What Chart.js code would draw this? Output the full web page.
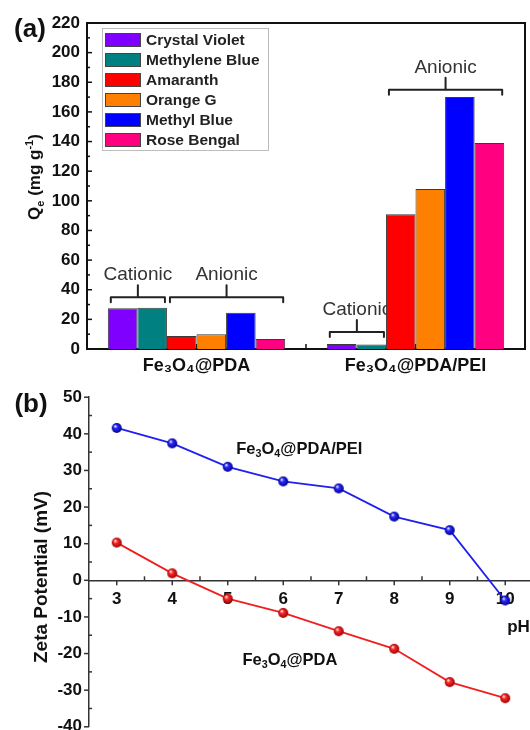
<!DOCTYPE html>
<html>
<head>
<meta charset="utf-8">
<title>Dye adsorption and zeta potential</title>
<script src="https://cdn.jsdelivr.net/npm/chart.js@4.4.1/dist/chart.umd.min.js"></script>
<style>
    html, body { margin: 0; padding: 0; background: #fff; overflow: hidden; }
    .panel { position: absolute; left: 0; }
    #panelA { top: 0; width: 530px; height: 380px; }
    #panelB { top: 380px; width: 537px; height: 364px; }
</style>
</head>
<body>
<div class="panel" id="panelA"><canvas id="chartA"></canvas></div>
<div class="panel" id="panelB"><canvas id="chartB"></canvas></div>
<script>
// (a) adsorption capacity Qe, mg/g
const adsorbents = ['Fe₃O₄@PDA', 'Fe₃O₄@PDA/PEI'];
const dyes = ['Crystal Violet', 'Methylene Blue', 'Amaranth', 'Orange G', 'Methyl Blue', 'Rose Bengal'];
const crystalViolet = [27.5, 3.3];
const methyleneBlue = [27.9, 3.1];
const amaranth = [8.8, 91];
const orangeG = [9.9, 108];
const methylBlue = [24.5, 170];
const roseBengal = [6.7, 139];
const qeTicks = [0, 20, 40, 60, 80, 100, 120, 140, 160, 180, 200, 220];

// dye charge groups: adsorbent index, first/last dye index, bracket height (mg/g)
const dyeGroups = [
    { text: 'Cationic', cat: 0, from: 0, to: 1, level: 35 },
    { text: 'Anionic', cat: 0, from: 2, to: 5, level: 35 },
    { text: 'Cationic', cat: 1, from: 0, to: 1, level: 11.5 },
    { text: 'Anionic', cat: 1, from: 2, to: 5, level: 175 }
];

// (b) zeta potential vs pH, mV
const phValues = [3, 4, 5, 6, 7, 8, 9, 10];
const zetaPdaPei = [41.6, 37.4, 31.0, 27.0, 25.1, 17.4, 13.7, -5.5];
const zetaPda = [10.3, 1.9, -5.0, -8.9, -13.9, -18.7, -27.8, -32.2];
const zetaTicks = [-40, -30, -20, -10, 0, 10, 20, 30, 40, 50];

const family = '"Liberation Sans", Arial, Helvetica, sans-serif';
Chart.defaults.font.family = family;
Chart.defaults.color = '#111';
Chart.defaults.animation = false;

const dyeSeries = [crystalViolet, methyleneBlue, amaranth, orangeG, methylBlue, roseBengal];
const dyeColors = ['#8000ff', '#008080', '#ff0000', '#ff8000', '#0000ff', '#ff0080'];

function tick(ctx, x1, y1, x2, y2) {
    ctx.beginPath();
    ctx.moveTo(x1, y1);
    ctx.lineTo(x2, y2);
    ctx.stroke();
}

function midpoints(arr) {
    const out = [];
    for (let i = 1; i < arr.length; i++) out.push((arr[i - 1] + arr[i]) / 2);
    return out;
}

// text with _{sub} and ^{sup} parts, y is the baseline
function drawRich(ctx, str, x, y, size, align, weight) {
    const parts = [];
    const re = /([_^])\{([^}]*)\}|([^_^]+)/g;
    let m;
    while ((m = re.exec(str))) {
        if (m[3]) parts.push({ t: m[3], s: 0 });
        else parts.push({ t: m[2], s: m[1] === '_' ? 1 : -1 });
    }
    const small = size * 0.65;
    const fontFor = p => (weight || 'bold') + ' ' + (p.s ? small : size) + 'px ' + family;
    let w = 0;
    parts.forEach(p => { ctx.font = fontFor(p); p.w = ctx.measureText(p.t).width; w += p.w; });
    let cx = align === 'left' ? x : x - w / 2;
    ctx.textAlign = 'left';
    ctx.textBaseline = 'alphabetic';
    parts.forEach(p => {
        ctx.font = fontFor(p);
        const dy = p.s === 1 ? size * 0.22 : (p.s === -1 ? -size * 0.42 : 0);
        ctx.fillText(p.t, cx, y + dy);
        cx += p.w;
    });
}

function panelLetter(ctx, text, x, y) {
    ctx.font = 'bold 26px ' + family;
    ctx.fillStyle = '#111';
    ctx.textAlign = 'center';
    ctx.textBaseline = 'middle';
    ctx.fillText(text, x, y);
}

// shaded ball used as point marker
function sphere(base, dark, r) {
    const c = document.createElement('canvas');
    const s = Math.ceil(2 * r + 2);
    c.width = c.height = s;
    const g = c.getContext('2d');
    const m = s / 2;
    const grad = g.createRadialGradient(m - r * 0.35, m - r * 0.4, r * 0.05, m, m, r);
    grad.addColorStop(0, '#ffffff');
    grad.addColorStop(0.35, base);
    grad.addColorStop(1, dark);
    g.fillStyle = grad;
    g.beginPath();
    g.arc(m, m, r, 0, Math.PI * 2);
    g.fill();
    return c;
}

// ---------- Panel (a) ----------
const panelAPlugin = {
    id: 'panelA',
    beforeDatasetsDraw(chart) {
        const { ctx, chartArea: a, scales: { x, y } } = chart;
        ctx.save();
        ctx.strokeStyle = '#111';
        ctx.lineWidth = 1.5;
        const centers = adsorbents.map((_, i) => x.getPixelForTick(i));
        centers.forEach(px => tick(ctx, px, a.bottom, px, a.bottom - 5));
        midpoints(centers).forEach(px => tick(ctx, px, a.bottom, px, a.bottom - 5));

        // charge group brackets, text sits behind the bars
        ctx.lineWidth = 2;
        ctx.lineJoin = 'round';
        ctx.lineCap = 'round';
        dyeGroups.forEach(g => {
            const first = chart.getDatasetMeta(g.from).data[g.cat].getProps(['x', 'width']);
            const last = chart.getDatasetMeta(g.to).data[g.cat].getProps(['x', 'width']);
            const x1 = first.x - first.width / 2 + 3;
            const x2 = last.x + last.width / 2 - 2;
            const xm = (x1 + x2) / 2;
            const py = y.getPixelForValue(g.level);
            ctx.strokeStyle = '#222';
            ctx.beginPath();
            ctx.moveTo(x1, py + 5);
            ctx.lineTo(x1, py);
            ctx.lineTo(x2, py);
            ctx.lineTo(x2, py + 5);
            ctx.moveTo(xm, py);
            ctx.lineTo(xm, py - 12);
            ctx.stroke();
            ctx.font = '19px ' + family;
            ctx.fillStyle = '#333';
            ctx.textAlign = 'center';
            ctx.textBaseline = 'alphabetic';
            ctx.fillText(g.text, xm, py - 17);
        });
        ctx.restore();
    },
    afterDraw(chart) {
        const { ctx, chartArea: a, scales: { y } } = chart;
        ctx.save();
        ctx.strokeStyle = '#111';
        ctx.lineWidth = 2;
        ctx.beginPath();
        ctx.moveTo(a.left, a.top);
        ctx.lineTo(a.right, a.top);
        ctx.lineTo(a.right, a.bottom);
        ctx.stroke();

        ctx.lineWidth = 1.5;
        qeTicks.forEach(v => { const py = y.getPixelForValue(v); tick(ctx, a.left, py, a.left + 5, py); });
        midpoints(qeTicks).forEach(v => { const py = y.getPixelForValue(v); tick(ctx, a.left, py, a.left + 3, py); });

        // legend
        const bx = a.left + 15, by = a.top + 5;
        ctx.lineWidth = 1;
        ctx.strokeStyle = '#bdbdbd';
        ctx.strokeRect(bx + 0.5, by + 0.5, 166, 122);
        chart.data.datasets.forEach((ds, i) => {
            const cy = by + 12 + i * 20;
            ctx.fillStyle = ds.backgroundColor;
            ctx.fillRect(bx + 3, cy - 7, 36, 14);
            ctx.strokeStyle = '#444';
            ctx.strokeRect(bx + 3.5, cy - 6.5, 35, 13);
            ctx.fillStyle = '#222';
            ctx.font = 'bold 15.5px ' + family;
            ctx.textAlign = 'left';
            ctx.textBaseline = 'middle';
            ctx.fillText(ds.label, bx + 44, cy + 1);
        });

        // y title
        ctx.fillStyle = '#111';
        ctx.save();
        ctx.translate(34, (a.top + a.bottom) / 2 - 9);
        ctx.rotate(-Math.PI / 2);
        drawRich(ctx, 'Q_{e} (mg g^{-1})', 0, 6, 17, 'center');
        ctx.restore();

        panelLetter(ctx, '(a)', 30, 30);
        ctx.restore();
    }
};

new Chart(document.getElementById('chartA'), {
    type: 'bar',
    data: {
        labels: adsorbents,
        datasets: dyes.map((d, i) => ({
            label: d,
            data: dyeSeries[i],
            backgroundColor: dyeColors[i],
            borderColor: '#3a3a3a',
            borderWidth: 1,
            categoryPercentage: 0.81,
            barPercentage: 1
        }))
    },
    options: {
        responsive: true,
        maintainAspectRatio: false,
        layout: { padding: { top: 23, right: 5, bottom: 0, left: 0 } },
        plugins: { legend: { display: false }, tooltip: { enabled: false } },
        scales: {
            x: {
                grid: { display: false, drawTicks: false },
                border: { color: '#111', width: 2 },
                ticks: { font: { size: 18, weight: 'bold' }, padding: 6 },
                afterFit: s => { s.height = 31; }
            },
            y: {
                min: 0,
                max: 220,
                grid: { display: false, drawTicks: false },
                border: { color: '#111', width: 2 },
                ticks: { font: { size: 17, weight: 'bold' }, padding: 7 },
                afterBuildTicks: s => { s.ticks = qeTicks.map(v => ({ value: v })); },
                afterFit: s => { s.width = 87; }
            }
        }
    },
    plugins: [panelAPlugin]
});

// ---------- Panel (b) ----------
const curveLabels = [
    { text: 'Fe_{3}O_{4}@PDA/PEI', x: 6.29, y: 36.2 },
    { text: 'Fe_{3}O_{4}@PDA', x: 6.12, y: -21.4 }
];

const panelBPlugin = {
    id: 'panelB',
    beforeDatasetsDraw(chart) {
        const { ctx, chartArea: a, scales: { x, y } } = chart;
        const y0 = y.getPixelForValue(0);
        ctx.save();
        ctx.strokeStyle = '#333';
        ctx.lineWidth = 1.5;
        zetaTicks.forEach(v => { const py = y.getPixelForValue(v); tick(ctx, a.left - 5, py, a.left, py); });
        midpoints(zetaTicks).forEach(v => { const py = y.getPixelForValue(v); tick(ctx, a.left, py, a.left + 3, py); });
        phValues.forEach(v => { const px = x.getPixelForValue(v); tick(ctx, px, y0, px, y0 + 5); });
        midpoints(phValues).forEach(v => { const px = x.getPixelForValue(v); tick(ctx, px, y0, px, y0 - 4); });
        ctx.restore();
    },
    afterDraw(chart) {
        const { ctx, chartArea: a, scales: { x, y } } = chart;
        ctx.save();
        ctx.fillStyle = '#111';
        curveLabels.forEach(l => {
            drawRich(ctx, l.text, x.getPixelForValue(l.x), y.getPixelForValue(l.y) + 6, 16.5, 'center');
        });

        ctx.font = 'bold 17px ' + family;
        ctx.textAlign = 'left';
        ctx.textBaseline = 'middle';
        ctx.fillText('pH', x.getPixelForValue(10) + 2, y.getPixelForValue(0) + 47);

        ctx.save();
        ctx.translate(40, (a.top + a.bottom) / 2 + 15);
        ctx.rotate(-Math.PI / 2);
        drawRich(ctx, 'Zeta Potential (mV)', 0, 7, 19, 'center');
        ctx.restore();

        panelLetter(ctx, '(b)', 31, 25);
        ctx.restore();
    }
};

new Chart(document.getElementById('chartB'), {
    type: 'line',
    data: {
        datasets: [
            {
                label: 'Fe₃O₄@PDA/PEI',
                data: phValues.map((p, i) => ({ x: p, y: zetaPdaPei[i] })),
                borderColor: '#2020f0',
                borderWidth: 1.8,
                pointStyle: sphere('#2a2aff', '#00008c', 5),
                pointRadius: 5,
                tension: 0
            },
            {
                label: 'Fe₃O₄@PDA',
                data: phValues.map((p, i) => ({ x: p, y: zetaPda[i] })),
                borderColor: '#f02020',
                borderWidth: 1.8,
                pointStyle: sphere('#ff2a2a', '#9a0000', 5),
                pointRadius: 5,
                tension: 0
            }
        ]
    },
    options: {
        responsive: true,
        maintainAspectRatio: false,
        layout: { padding: { top: 17, right: 0, bottom: 0, left: 0 } },
        plugins: { legend: { display: false }, tooltip: { enabled: false } },
        scales: {
            x: {
                type: 'linear',
                min: 2.5,
                max: 10.45,
                position: { y: 0 },
                grid: { display: false, drawTicks: false },
                border: { color: '#333', width: 1.5 },
                ticks: { font: { size: 17, weight: 'bold' }, padding: 9 },
                afterBuildTicks: s => { s.ticks = phValues.map(v => ({ value: v })); },
                afterFit: s => { s.paddingLeft = 0; s.paddingRight = 0; }
            },
            y: {
                min: -40,
                max: 50,
                grid: { display: false, drawTicks: false },
                border: { color: '#333', width: 1.5 },
                ticks: { font: { size: 17, weight: 'bold' }, padding: 7 },
                afterBuildTicks: s => { s.ticks = zetaTicks.map(v => ({ value: v })); },
                afterFit: s => { s.width = 89; }
            }
        }
    },
    plugins: [panelBPlugin]
});
</script>
</body>
</html>
